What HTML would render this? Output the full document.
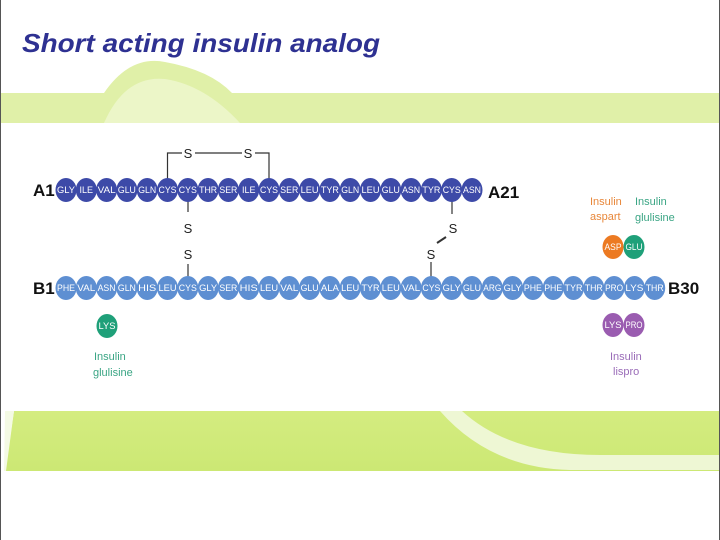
<!DOCTYPE html>
<html><head><meta charset="utf-8"><style>
html,body{margin:0;padding:0;background:#fff;}
body{width:720px;height:540px;overflow:hidden;position:relative;font-family:"Liberation Sans",sans-serif;}
</style></head><body>
<svg width="720" height="540" xmlns="http://www.w3.org/2000/svg" style="position:absolute;left:0;top:0">
<defs>
<linearGradient id="bg" x1="0" y1="0" x2="0" y2="1"><stop offset="0" stop-color="#d4ec80"/><stop offset="1" stop-color="#cce874"/></linearGradient>
</defs>
<rect x="0" y="0" width="720" height="540" fill="#fff"/>
<rect x="0" y="93" width="720" height="30" fill="#e0f0a8"/>
<path d="M104 93 Q130 55 165 62 Q210 70 232 93 Z" fill="#e0f0a8"/>
<path d="M104 123 Q125 75 165 79 Q205 85 240 123 Z" fill="#ecf6c8"/>
<rect x="0" y="123" width="720" height="288" fill="#fff"/>
<path d="M14 411 L720 411 L720 471 L5 471 Z" fill="url(#bg)"/>
<path d="M5 411 L14 411 L6 471 L4 471 Z" fill="#f4fae4"/>
<path d="M440 411 Q490 468 570 470 L720 470 L720 455 L600 455 Q510 455 462 411 Z" fill="#eef7d4"/>
<line x1="0.5" y1="0" x2="0.5" y2="540" stroke="#555" stroke-width="1"/>
<line x1="719.5" y1="0" x2="719.5" y2="540" stroke="#555" stroke-width="1"/>
<text x="22" y="52" font-family="Liberation Sans,sans-serif" font-size="26" font-weight="bold" font-style="italic" fill="#2e3192" textLength="358" lengthAdjust="spacingAndGlyphs">Short acting insulin analog</text>

<g stroke="#333" stroke-width="1.2" fill="none">
<path d="M167.5 180 V153 H182"/><path d="M195 153 H242"/><path d="M255 153 H269 V180"/>
<line x1="188" y1="200" x2="188" y2="212"/>
<line x1="188" y1="264" x2="188" y2="278"/>
<line x1="452" y1="200" x2="452" y2="214"/>
<line x1="446" y1="237" x2="437" y2="243" stroke-width="2"/>
<line x1="431" y1="262" x2="431" y2="278"/>
</g>
<g font-family="Liberation Sans,sans-serif" font-size="13" fill="#222" text-anchor="middle">
<text x="188" y="158">S</text><text x="248" y="158">S</text>
<text x="188" y="233">S</text><text x="188" y="259">S</text>
<text x="453" y="233">S</text><text x="431" y="259">S</text>
</g>
<g font-family="Liberation Sans,sans-serif" font-weight="bold" font-size="17" fill="#111">
<text x="33" y="196">A1</text><text x="488" y="198">A21</text>
<text x="33" y="294">B1</text><text x="668" y="294">B30</text>
</g>

<g fill="#3d4aa8">
<ellipse cx="66" cy="190" rx="10.5" ry="12"/><ellipse cx="86.3" cy="190" rx="10.5" ry="12"/><ellipse cx="106.6" cy="190" rx="10.5" ry="12"/><ellipse cx="126.9" cy="190" rx="10.5" ry="12"/><ellipse cx="147.2" cy="190" rx="10.5" ry="12"/><ellipse cx="167.5" cy="190" rx="10.5" ry="12"/><ellipse cx="187.8" cy="190" rx="10.5" ry="12"/><ellipse cx="208.1" cy="190" rx="10.5" ry="12"/><ellipse cx="228.4" cy="190" rx="10.5" ry="12"/><ellipse cx="248.7" cy="190" rx="10.5" ry="12"/><ellipse cx="269" cy="190" rx="10.5" ry="12"/><ellipse cx="289.3" cy="190" rx="10.5" ry="12"/><ellipse cx="309.6" cy="190" rx="10.5" ry="12"/><ellipse cx="329.9" cy="190" rx="10.5" ry="12"/><ellipse cx="350.2" cy="190" rx="10.5" ry="12"/><ellipse cx="370.5" cy="190" rx="10.5" ry="12"/><ellipse cx="390.8" cy="190" rx="10.5" ry="12"/><ellipse cx="411.1" cy="190" rx="10.5" ry="12"/><ellipse cx="431.4" cy="190" rx="10.5" ry="12"/><ellipse cx="451.7" cy="190" rx="10.5" ry="12"/><ellipse cx="472" cy="190" rx="10.5" ry="12"/>
</g>
<g font-family="Liberation Sans,sans-serif" font-size="9" fill="#fff" text-anchor="middle">
<text x="66" y="193" textLength="18" lengthAdjust="spacingAndGlyphs">GLY</text><text x="86.3" y="193">ILE</text><text x="106.6" y="193" textLength="18" lengthAdjust="spacingAndGlyphs">VAL</text><text x="126.9" y="193" textLength="18" lengthAdjust="spacingAndGlyphs">GLU</text><text x="147.2" y="193" textLength="18" lengthAdjust="spacingAndGlyphs">GLN</text><text x="167.5" y="193" textLength="18" lengthAdjust="spacingAndGlyphs">CYS</text><text x="187.8" y="193" textLength="18" lengthAdjust="spacingAndGlyphs">CYS</text><text x="208.1" y="193" textLength="18" lengthAdjust="spacingAndGlyphs">THR</text><text x="228.4" y="193" textLength="18" lengthAdjust="spacingAndGlyphs">SER</text><text x="248.7" y="193">ILE</text><text x="269" y="193" textLength="18" lengthAdjust="spacingAndGlyphs">CYS</text><text x="289.3" y="193" textLength="18" lengthAdjust="spacingAndGlyphs">SER</text><text x="309.6" y="193" textLength="18" lengthAdjust="spacingAndGlyphs">LEU</text><text x="329.9" y="193" textLength="18" lengthAdjust="spacingAndGlyphs">TYR</text><text x="350.2" y="193" textLength="18" lengthAdjust="spacingAndGlyphs">GLN</text><text x="370.5" y="193" textLength="18" lengthAdjust="spacingAndGlyphs">LEU</text><text x="390.8" y="193" textLength="18" lengthAdjust="spacingAndGlyphs">GLU</text><text x="411.1" y="193" textLength="18" lengthAdjust="spacingAndGlyphs">ASN</text><text x="431.4" y="193" textLength="18" lengthAdjust="spacingAndGlyphs">TYR</text><text x="451.7" y="193" textLength="18" lengthAdjust="spacingAndGlyphs">CYS</text><text x="472" y="193" textLength="18" lengthAdjust="spacingAndGlyphs">ASN</text>
</g>

<g fill="#5e8fd2">
<ellipse cx="66" cy="288" rx="10.5" ry="12"/><ellipse cx="86.3" cy="288" rx="10.5" ry="12"/><ellipse cx="106.6" cy="288" rx="10.5" ry="12"/><ellipse cx="126.9" cy="288" rx="10.5" ry="12"/><ellipse cx="147.2" cy="288" rx="10.5" ry="12"/><ellipse cx="167.5" cy="288" rx="10.5" ry="12"/><ellipse cx="187.8" cy="288" rx="10.5" ry="12"/><ellipse cx="208.1" cy="288" rx="10.5" ry="12"/><ellipse cx="228.4" cy="288" rx="10.5" ry="12"/><ellipse cx="248.7" cy="288" rx="10.5" ry="12"/><ellipse cx="269" cy="288" rx="10.5" ry="12"/><ellipse cx="289.3" cy="288" rx="10.5" ry="12"/><ellipse cx="309.6" cy="288" rx="10.5" ry="12"/><ellipse cx="329.9" cy="288" rx="10.5" ry="12"/><ellipse cx="350.2" cy="288" rx="10.5" ry="12"/><ellipse cx="370.5" cy="288" rx="10.5" ry="12"/><ellipse cx="390.8" cy="288" rx="10.5" ry="12"/><ellipse cx="411.1" cy="288" rx="10.5" ry="12"/><ellipse cx="431.4" cy="288" rx="10.5" ry="12"/><ellipse cx="451.7" cy="288" rx="10.5" ry="12"/><ellipse cx="472" cy="288" rx="10.5" ry="12"/><ellipse cx="492.3" cy="288" rx="10.5" ry="12"/><ellipse cx="512.6" cy="288" rx="10.5" ry="12"/><ellipse cx="532.9" cy="288" rx="10.5" ry="12"/><ellipse cx="553.2" cy="288" rx="10.5" ry="12"/><ellipse cx="573.5" cy="288" rx="10.5" ry="12"/><ellipse cx="593.8" cy="288" rx="10.5" ry="12"/><ellipse cx="614.1" cy="288" rx="10.5" ry="12"/><ellipse cx="634.4" cy="288" rx="10.5" ry="12"/><ellipse cx="654.7" cy="288" rx="10.5" ry="12"/>
</g>
<g font-family="Liberation Sans,sans-serif" font-size="9" fill="#fff" text-anchor="middle">
<text x="66" y="291" textLength="18" lengthAdjust="spacingAndGlyphs">PHE</text><text x="86.3" y="291" textLength="18" lengthAdjust="spacingAndGlyphs">VAL</text><text x="106.6" y="291" textLength="18" lengthAdjust="spacingAndGlyphs">ASN</text><text x="126.9" y="291" textLength="18" lengthAdjust="spacingAndGlyphs">GLN</text><text x="147.2" y="291" textLength="18" lengthAdjust="spacingAndGlyphs">HIS</text><text x="167.5" y="291" textLength="18" lengthAdjust="spacingAndGlyphs">LEU</text><text x="187.8" y="291" textLength="18" lengthAdjust="spacingAndGlyphs">CYS</text><text x="208.1" y="291" textLength="18" lengthAdjust="spacingAndGlyphs">GLY</text><text x="228.4" y="291" textLength="18" lengthAdjust="spacingAndGlyphs">SER</text><text x="248.7" y="291" textLength="18" lengthAdjust="spacingAndGlyphs">HIS</text><text x="269" y="291" textLength="18" lengthAdjust="spacingAndGlyphs">LEU</text><text x="289.3" y="291" textLength="18" lengthAdjust="spacingAndGlyphs">VAL</text><text x="309.6" y="291" textLength="18" lengthAdjust="spacingAndGlyphs">GLU</text><text x="329.9" y="291" textLength="18" lengthAdjust="spacingAndGlyphs">ALA</text><text x="350.2" y="291" textLength="18" lengthAdjust="spacingAndGlyphs">LEU</text><text x="370.5" y="291" textLength="18" lengthAdjust="spacingAndGlyphs">TYR</text><text x="390.8" y="291" textLength="18" lengthAdjust="spacingAndGlyphs">LEU</text><text x="411.1" y="291" textLength="18" lengthAdjust="spacingAndGlyphs">VAL</text><text x="431.4" y="291" textLength="18" lengthAdjust="spacingAndGlyphs">CYS</text><text x="451.7" y="291" textLength="18" lengthAdjust="spacingAndGlyphs">GLY</text><text x="472" y="291" textLength="18" lengthAdjust="spacingAndGlyphs">GLU</text><text x="492.3" y="291" textLength="18" lengthAdjust="spacingAndGlyphs">ARG</text><text x="512.6" y="291" textLength="18" lengthAdjust="spacingAndGlyphs">GLY</text><text x="532.9" y="291" textLength="18" lengthAdjust="spacingAndGlyphs">PHE</text><text x="553.2" y="291" textLength="18" lengthAdjust="spacingAndGlyphs">PHE</text><text x="573.5" y="291" textLength="18" lengthAdjust="spacingAndGlyphs">TYR</text><text x="593.8" y="291" textLength="18" lengthAdjust="spacingAndGlyphs">THR</text><text x="614.1" y="291" textLength="18" lengthAdjust="spacingAndGlyphs">PRO</text><text x="634.4" y="291" textLength="18" lengthAdjust="spacingAndGlyphs">LYS</text><text x="654.7" y="291" textLength="18" lengthAdjust="spacingAndGlyphs">THR</text>
</g>

<ellipse cx="107" cy="326" rx="10.5" ry="12" fill="#1fa079"/>
<ellipse cx="613" cy="247" rx="10.5" ry="12" fill="#ec7a22"/>
<ellipse cx="634" cy="247" rx="10.5" ry="12" fill="#1fa079"/>
<ellipse cx="613" cy="325" rx="10.5" ry="12" fill="#9a5cb0"/>
<ellipse cx="634" cy="325" rx="10.5" ry="12" fill="#9a5cb0"/>
<g font-family="Liberation Sans,sans-serif" font-size="9" fill="#fff" text-anchor="middle">
<text x="107" y="329" textLength="17" lengthAdjust="spacingAndGlyphs">LYS</text>
<text x="613" y="250" textLength="17" lengthAdjust="spacingAndGlyphs">ASP</text>
<text x="634" y="250" textLength="17" lengthAdjust="spacingAndGlyphs">GLU</text>
<text x="613" y="328" textLength="17" lengthAdjust="spacingAndGlyphs">LYS</text>
<text x="634" y="328" textLength="17" lengthAdjust="spacingAndGlyphs">PRO</text>
</g>
<g font-family="Liberation Sans,sans-serif" font-size="11">
<text x="94" y="360" fill="#3aa584">Insulin</text><text x="93" y="376" fill="#3aa584">glulisine</text>
<text x="590" y="205" fill="#e8873a">Insulin</text><text x="590" y="220" fill="#e8873a">aspart</text>
<text x="635" y="205" fill="#3aa584">Insulin</text><text x="635" y="221" fill="#3aa584">glulisine</text>
<text x="610" y="360" fill="#9a6cb8">Insulin</text><text x="613" y="375" fill="#9a6cb8">lispro</text>
</g>
</svg>
</body></html>
